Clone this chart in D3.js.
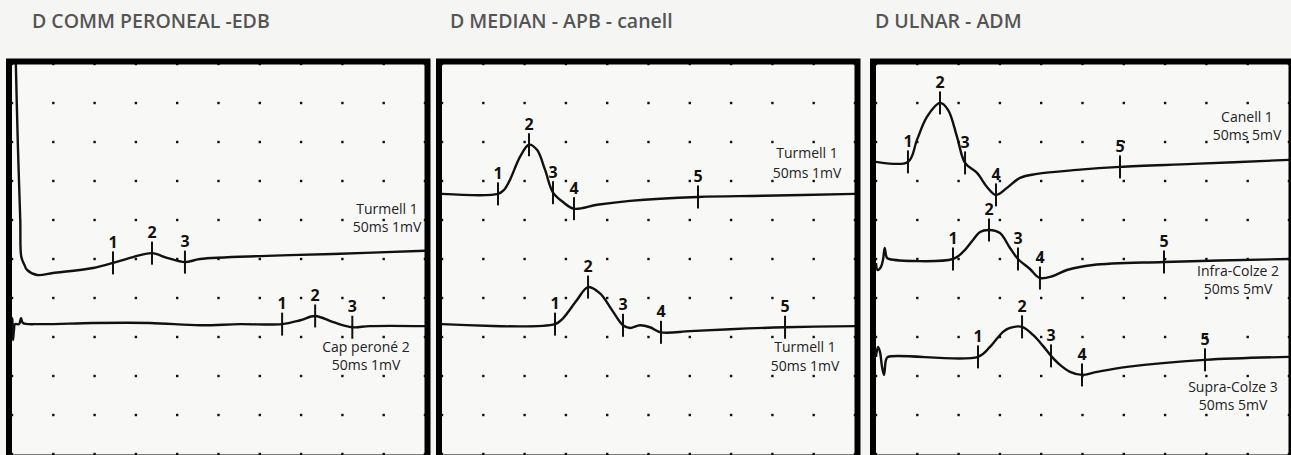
<!DOCTYPE html>
<html>
<head>
<meta charset="utf-8">
<script src="https://cdn.jsdelivr.net/npm/d3@7/dist/d3.min.js"></script>
<style>
  html, body { margin: 0; padding: 0; background: #f5f5f4; }
  svg { display: block; }
</style>
</head>
<body>
<div id="chart"></div>
<script>
// --- data: time in ms, amplitude in mV relative to each trace's baseline ---
const panelTitles = ["D COMM PERONEAL -EDB", "D MEDIAN - APB - canell", "D ULNAR - ADM"];
const sensitivity = [1, 1, 5];          // mV per division
const sweepMs = 50;                      // full sweep, 10 divisions
const divisions = 10;

// peroneal
const peroTurmellTime = [0.42, 0.7, 1.0, 1.13, 1.5, 1.82, 3.03, 4.96, 9.81, 12.23, 14.65, 16.95, 18.77, 20.94, 22.76, 30.87, 38.86, 50];
const peroTurmellVolt = [5.4, 3.0, 1.0, 0.05, -0.15, -0.28, -0.41, -0.36, -0.23, -0.10, 0.05, 0.15, 0.03, -0.08, 0, 0.08, 0.13, 0.21];
const peroTurmellMarks = [12.23, 16.95, 20.94];

const peroCapTime = [0, 0.06, 0.12, 0.24, 0.36, 0.85, 1.09, 1.33, 3.4, 9.8, 16.7, 22.8, 27.6, 32.7, 34.9, 36.7, 38.9, 41.2, 43.3, 50];
const peroCapVolt = [0, 0.15, -0.41, -0.15, 0, 0, 0.15, 0.03, 0, 0.03, 0.03, -0.03, 0, 0, 0.10, 0.21, 0.05, -0.08, -0.05, -0.05];
const peroCapMarks = [32.7, 36.7, 41.2];

// median
const medTurmellTime = [0, 6.78, 7.5, 8.23, 9.44, 10.53, 11.5, 12.47, 13.44, 14.65, 15.98, 18.77, 22.76, 30.99, 38.86, 50];
const medTurmellVolt = [0, 0, 0.10, 0.36, 0.95, 1.26, 1.13, 0.62, 0.03, -0.21, -0.38, -0.28, -0.18, -0.08, -0.05, 0];
const medTurmellMarks = [6.78, 10.53, 13.44, 15.98, 30.99];

const medTurmell2Time = [0, 13.68, 14.65, 16.34, 17.68, 19.13, 20.58, 21.91, 22.76, 23.97, 25.18, 26.51, 30.02, 34.87, 41.53, 50];
const medTurmell2Volt = [0, 0, 0.15, 0.62, 0.95, 0.79, 0.36, -0.03, -0.10, -0.03, -0.08, -0.21, -0.18, -0.13, -0.08, -0.05];
const medTurmell2Marks = [13.68, 17.68, 21.91, 26.51, 41.53];

// ulnar
const ulnCanellTime = [0, 3.87, 4.96, 6.17, 7.75, 8.72, 9.81, 10.78, 12.23, 13.44, 14.53, 15.86, 17.43, 19.49, 24.33, 29.54, 38.38, 50];
const ulnCanellVolt = [0, 0, 2.82, 5.77, 7.56, 6.67, 3.21, -0.13, -1.41, -3.21, -4.23, -3.33, -2.05, -1.54, -1.03, -0.64, -0.26, 0.26];
const ulnCanellMarks = [3.87, 7.75, 10.78, 14.53, 29.54];

const ulnInfraTime = [0, 0.2, 0.6, 0.85, 1.05, 1.3, 1.6, 9.32, 10.53, 11.74, 12.59, 13.68, 15.01, 16.22, 17.19, 18.64, 19.85, 21.43, 23.12, 26.27, 34.87, 50];
const ulnInfraVolt = [-0.5, -1.41, -1.0, -0.1, 1.41, 0.2, 0, 0, 0.90, 2.44, 3.46, 3.72, 3.33, 1.41, 0, -1.28, -2.44, -2.18, -1.41, -0.77, -0.38, 0];
const ulnInfraMarks = [9.32, 13.68, 17.19, 19.85, 34.87];

const ulnSupraTime = [0, 0.24, 0.48, 0.73, 0.97, 1.21, 1.45, 12.35, 13.8, 15.38, 16.22, 17.68, 19.01, 20.22, 21.19, 22.28, 23.49, 24.94, 26.76, 30.39, 39.83, 50];
const ulnSupraVolt = [0, 1.28, 0.64, -1.28, -2.31, -0.38, 0, 0, 1.28, 3.21, 3.72, 3.85, 2.82, 1.41, 0.13, -1.03, -1.92, -2.31, -1.92, -1.28, -0.38, 0];
const ulnSupraMarks = [12.35, 17.68, 21.19, 24.94, 39.83];

const traceNames = [["Turmell 1", "Cap peroné 2"], ["Turmell 1", "Turmell 1"], ["Canell 1", "Infra-Colze 2", "Supra-Colze 3"]];
const traceSettings = [["50ms 1mV", "50ms 1mV"], ["50ms 1mV", "50ms 1mV"], ["50ms 5mV", "50ms 5mV", "50ms 5mV"]];

// --- layout ---
const W = 1291, H = 455;
const panelLeft = [12, 442, 876];
const plotTop = 64, plotW = 413, plotH = 390;
const baselineDiv = [[5.0, 6.67], [3.33, 6.67], [2.51, 5.0, 7.51]];   // baseline position, divisions from top
// trace caption centre, px from plot corner, and line gap
const captionPos = [[[375, 145, 18], [354, 283, 18]], [[365, 89, 20], [363, 283, 19]], [[371, 53, 18], [362, 207, 18], [357, 323, 18]]];

const panelTraces = [
  [[peroTurmellTime, peroTurmellVolt, peroTurmellMarks], [peroCapTime, peroCapVolt, peroCapMarks]],
  [[medTurmellTime, medTurmellVolt, medTurmellMarks], [medTurmell2Time, medTurmell2Volt, medTurmell2Marks]],
  [[ulnCanellTime, ulnCanellVolt, ulnCanellMarks], [ulnInfraTime, ulnInfraVolt, ulnInfraMarks], [ulnSupraTime, ulnSupraVolt, ulnSupraMarks]]
];
const titleX = [32, 450, 875];

const svg = d3.select("#chart").append("svg")
  .attr("width", W).attr("height", H)
  .attr("viewBox", `0 0 ${W} ${H}`);

const valueAt = (ts, vs, t) => {
  const i = d3.bisectLeft(ts, t);
  if (i <= 0) return vs[0];
  if (i >= ts.length) return vs[vs.length - 1];
  const f = (t - ts[i - 1]) / (ts[i] - ts[i - 1]);
  return vs[i - 1] + f * (vs[i] - vs[i - 1]);
};

panelTitles.forEach((title, p) => {
  const left = panelLeft[p];
  const sens = sensitivity[p];

  svg.append("text")
    .attr("x", titleX[p]).attr("y", 28)
    .attr("font-family", "Open Sans, sans-serif")
    .attr("font-weight", 600).attr("font-size", 19.5)
    .attr("fill", "#555")
    .text(title);

  const g = svg.append("g");
  const x = d3.scaleLinear().domain([0, sweepMs]).range([left, left + plotW]);
  const yDiv = d3.scaleLinear().domain([0, divisions]).range([plotTop, plotTop + plotH]);

  g.append("rect")
    .attr("x", left).attr("y", plotTop).attr("width", plotW).attr("height", plotH)
    .attr("fill", "#f8f8f7");

  // dotted graticule
  const gridPts = d3.cross(d3.range(divisions + 1), d3.range(divisions + 1));
  g.selectAll(".dot").data(gridPts).enter().append("rect")
    .attr("x", d => x(d[0] * sweepMs / divisions) - 1.2)
    .attr("y", d => yDiv(d[1]) - 1.2)
    .attr("width", 2.4).attr("height", 2.4)
    .attr("fill", "#111");

  const clipId = "clip" + p;
  svg.append("clipPath").attr("id", clipId).append("rect")
    .attr("x", left).attr("y", plotTop).attr("width", plotW).attr("height", plotH);

  panelTraces[p].forEach((tr, k) => {
    const [ts, vs, marks] = tr;
    const base = baselineDiv[p][k];
    const y = d3.scaleLinear()
      .domain([base * sens, (base - divisions) * sens])
      .range([plotTop, plotTop + plotH]);

    const line = d3.line()
      .x((d, i) => x(ts[i]))
      .y(d => y(d))
      .curve(d3.curveCatmullRom.alpha(0.5));

    g.append("path")
      .attr("clip-path", `url(#${clipId})`)
      .attr("d", line(vs))
      .attr("fill", "none")
      .attr("stroke", "#111")
      .attr("stroke-width", 2.4)
      .attr("stroke-linejoin", "round");

    marks.forEach((t, m) => {
      const cx = x(t), cy = y(valueAt(ts, vs, t));
      g.append("line")
        .attr("x1", cx).attr("x2", cx)
        .attr("y1", cy - 11.5).attr("y2", cy + 11.5)
        .attr("stroke", "#111").attr("stroke-width", 2);
      g.append("text")
        .attr("x", cx).attr("y", cy - 15)
        .attr("text-anchor", "middle")
        .attr("font-family", "Open Sans, sans-serif")
        .attr("font-weight", 700).attr("font-size", 16)
        .attr("fill", "#111")
        .text(m + 1);
    });

    const [cxo, cyo, gap] = captionPos[p][k];
    const cap = g.append("text")
      .attr("text-anchor", "middle")
      .attr("font-family", "Open Sans, sans-serif")
      .attr("font-weight", 500).attr("font-size", 14)
      .attr("fill", "#222");
    cap.append("tspan").attr("x", left + cxo).attr("y", plotTop + cyo).attr("dy", "0.35em").text(traceNames[p][k]);
    cap.append("tspan").attr("x", left + cxo).attr("y", plotTop + cyo + gap).attr("dy", "0.35em").text(traceSettings[p][k]);
  });

  // heavy screen frame
  g.append("rect")
    .attr("x", left - 3).attr("y", plotTop - 2.5)
    .attr("width", plotW + 5.5).attr("height", plotH + 6)
    .attr("fill", "none")
    .attr("stroke", "#000").attr("stroke-width", 6);
});
</script>
</body>
</html>
